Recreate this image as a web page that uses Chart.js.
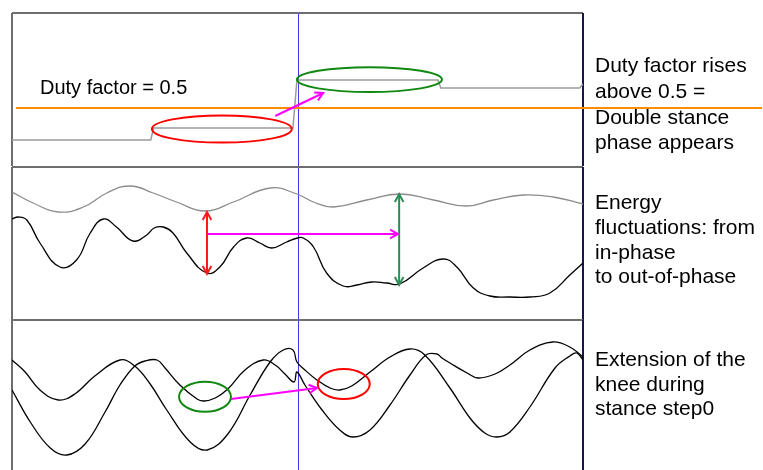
<!DOCTYPE html>
<html>
<head>
<meta charset="utf-8">
<title>Duty factor, energy and knee angle around step 0</title>
<script src="https://cdn.jsdelivr.net/npm/chart.js@4.4.1/dist/chart.umd.min.js"></script>
<style>
  html, body { margin: 0; padding: 0; background: #fff; }
  #wrap { position: relative; width: 763px; height: 470px; overflow: hidden; background: #fff; }
  #wrap canvas { position: absolute; left: 0; }
  .note { position: absolute; font-family: 'Liberation Sans', Arial, sans-serif; color: #000; white-space: nowrap; }
</style>
</head>
<body>
<div id="wrap">
  <canvas id="duty" width="763" height="168" style="top:0"></canvas>
  <canvas id="energy" width="763" height="166" style="top:160px"></canvas>
  <canvas id="knee" width="763" height="157" style="top:313px"></canvas>

  <div class="note" style="left:40px; top:74px; font-size:20px; line-height:26px;">Duty factor = 0.5</div>
  <div class="note" style="left:595px; top:52px; font-size:21px; line-height:25.8px;">Duty factor rises<br>above 0.5 =<br>Double stance<br>phase appears</div>
  <div class="note" style="left:595px; top:190px; font-size:21px; line-height:24.8px;">Energy<br>fluctuations: from<br>in-phase<br>to out-of-phase</div>
  <div class="note" style="left:595px; top:347px; font-size:21px; line-height:24.6px;">Extension of the<br>knee during<br>stance step0</div>
</div>

<script>
// ---- data (x = position in the recorded window, 0..100; step 0 starts at 50) ----
const stepTransition = 50;

// duty factor
const dutyX      = [0, 24.3, 24.8, 49.2, 49.9, 74.6, 75.1, 99.4, 100];
const dutyFactor = [0.42, 0.42, 0.45, 0.45, 0.57, 0.57, 0.55, 0.55, 0.56];
const dutyThreshold = 0.5;

// energy fluctuations (upper grey trace, lower black trace)
const energyUpperX = [0, 3.7, 8.1, 12.5, 16.6, 20.7, 24.7, 28.8, 33.8, 38.8, 45.2, 49.9,
                      52.8, 56.3, 62.1, 67.9, 73.8, 79.6, 84.3, 89.5, 94.8, 100];
const energyUpper  = [12.8, 11.7, 10.8, 11.3, 12.7, 13.4, 12.7, 11.8, 10.9, 11.8, 13.2, 12.6,
                      11.8, 11.3, 12.0, 12.6, 12.0, 11.4, 12.0, 12.5, 12.3, 11.6];
const energyLowerX = [0, 1.1, 2.6, 4.9, 8.4, 11.3, 13.7, 16.0, 18.3, 21.2, 23.6, 24.9, 26.5, 28.2,
                      30.6, 34.1, 36.4, 38.8, 41.1, 43.4, 45.5, 48.1, 50.0, 51.0, 52.8, 55.1, 58.0,
                      60.4, 63.0, 65.6, 67.9, 72.0, 75.5, 77.9, 80.8, 83.7, 87.2, 90.7, 94.2, 97.7, 100];
const energyLower  = [10.1, 10.3, 10.0, 7.7, 5.3, 6.0, 8.7, 10.1, 9.3, 7.9, 8.5, 9.2, 9.3, 8.7,
                      6.7, 4.7, 5.3, 7.3, 8.2, 7.7, 7.2, 7.8, 8.2, 8.2, 7.3, 4.7, 3.4,
                      3.5, 3.8, 3.7, 3.6, 5.2, 6.1, 5.3, 3.2, 2.4, 2.3, 2.3, 2.7, 4.5, 5.7];

// knee angle of the two legs
const kneeAX = [0, 2.3, 4.9, 8.1, 11.0, 14.5, 18.9, 21.5, 24.2, 27.1, 31.2, 34.2, 37.8, 41.7, 45.2,
                47.5, 49.2, 49.9, 51.3, 53.4, 55.7, 57.4, 59.5, 62.7, 66.2, 69.7, 72.3, 76.7, 80.2,
                82.8, 84.9, 87.2, 90.7, 95.1, 97.7, 98.9, 100];
const kneeA  = [110, 98, 80, 70, 76, 94, 110, 104, 86, 60, 28, 20, 36, 75, 108,
                120, 120, 108, 100, 90, 82, 80, 84, 98, 113, 121, 115, 82, 52,
                37, 33, 38, 63, 102, 114, 117, 110];
const kneeBX = [0, 3.2, 6.7, 9.6, 12.8, 16.3, 18.9, 21.5, 23.3, 25.4, 26.8, 29.4, 32.4, 33.6, 35.6,
                37.8, 40.8, 44.0, 46.1, 47.8, 49.4, 49.9, 51.3, 54.3, 57.4, 59.7, 62.7, 66.2, 69.7,
                72.5, 74.4, 75.3, 76.7, 79.7, 81.6, 84.6, 87.2, 90.7, 94.7, 97.7, 100];
const kneeB  = [80, 48, 22, 15, 26, 58, 85, 104, 109, 110, 102, 85, 71, 69, 72,
                81, 100, 110, 105, 96, 88, 98, 85, 60, 40, 33, 40, 65, 95,
                115, 116, 112, 107, 97, 92, 96, 105, 120, 128, 123, 113];

// highlighted regions: [x from, x to, y centre, y half-span]
const dutyHighlights = [[24.5, 49.0, 0.4475, 0.034], [49.9, 75.3, 0.571, 0.031]];
const dutyShift = [46.1, 0.48, 54.5, 0.5375];                 // x0, y0, x1, y1
// vertical spans: [x, top, bottom]
const energySpans = [[34.15, 10.8, 4.6], [67.8, 12.6, 3.5]];
const energyShift = [34.3, 8.6, 67.6, 8.6];
// knee highlights: [x centre, y centre, x half-span, y half-span]
const kneeHighlights = [[33.8, 73.3, 4.55, 15], [58.1, 86, 4.55, 15]];
const kneeShift = [38.35, 71, 53.4, 82];

// ---- helpers ----
const toXY = (xs, ys) => xs.map((x, i) => ({ x, y: ys[i] }));

function arrowHead(ctx, x, y, ang, len) {
  ctx.beginPath();
  ctx.moveTo(x - len * Math.cos(ang - 0.5), y - len * Math.sin(ang - 0.5));
  ctx.lineTo(x, y);
  ctx.lineTo(x - len * Math.cos(ang + 0.5), y - len * Math.sin(ang + 0.5));
  ctx.stroke();
}
function arrow(ctx, x0, y0, x1, y1, both) {
  ctx.beginPath(); ctx.moveTo(x0, y0); ctx.lineTo(x1, y1); ctx.stroke();
  const a = Math.atan2(y1 - y0, x1 - x0);
  arrowHead(ctx, x1, y1, a, 9);
  if (both) arrowHead(ctx, x0, y0, a + Math.PI, 9);
}
function ellipse(ctx, cx, cy, rx, ry) {
  ctx.beginPath(); ctx.ellipse(cx, cy, rx, ry, 0, 0, Math.PI * 2); ctx.stroke();
}

// panel frame: grey top/left edges, dark right edge, blue step-0 marker
const framePlugin = {
  id: 'panelFrame',
  beforeDatasetsDraw(chart) {
    const { ctx, chartArea: a, scales } = chart;
    ctx.save();
    ctx.lineCap = 'butt';
    ctx.strokeStyle = '#3b3bf2';
    ctx.lineWidth = 1;
    const sx = Math.round(scales.x.getPixelForValue(stepTransition)) + 0.5;
    ctx.beginPath(); ctx.moveTo(sx, a.top); ctx.lineTo(sx, a.bottom); ctx.stroke();
    ctx.strokeStyle = '#6e6e6e';
    ctx.lineWidth = 2;
    ctx.beginPath(); ctx.moveTo(a.left, a.top); ctx.lineTo(a.right, a.top); ctx.stroke();
    ctx.beginPath(); ctx.moveTo(a.left, a.top); ctx.lineTo(a.left, a.bottom); ctx.stroke();
    ctx.strokeStyle = '#16164a';
    ctx.beginPath(); ctx.moveTo(a.right, a.top); ctx.lineTo(a.right, a.bottom); ctx.stroke();
    ctx.restore();
  }
};

function baseOptions(yMin, yMax, pad) {
  return {
    responsive: false,
    animation: false,
    events: [],
    layout: { padding: pad },
    plugins: { legend: { display: false }, tooltip: { enabled: false } },
    elements: { point: { radius: 0 } },
    scales: {
      x: { type: 'linear', min: 0, max: 100, display: false },
      y: { type: 'linear', min: yMin, max: yMax, display: false }
    }
  };
}

// ---- panel 1: duty factor ----
new Chart(document.getElementById('duty'), {
  type: 'line',
  data: {
    datasets: [{
      data: toXY(dutyX, dutyFactor),
      borderColor: '#9a9a9a', borderWidth: 1.5, tension: 0
    }]
  },
  options: baseOptions(0.355, 0.7375, { left: 12, top: 13, right: 180, bottom: 2 }),
  plugins: [framePlugin, {
    id: 'dutyNotes',
    afterDatasetsDraw(chart) {
      const { ctx, chartArea: a, scales: { x, y } } = chart;
      ctx.save();
      ctx.lineWidth = 2;
      ['#ff0000', '#118811'].forEach((c, i) => {
        const [x0, x1, yc, dy] = dutyHighlights[i];
        const px0 = x.getPixelForValue(x0), px1 = x.getPixelForValue(x1);
        const pyc = y.getPixelForValue(yc);
        ctx.strokeStyle = c;
        ellipse(ctx, (px0 + px1) / 2, pyc, (px1 - px0) / 2, y.getPixelForValue(yc - dy) - pyc);
      });
      ctx.strokeStyle = '#ff8c00';
      ctx.lineWidth = 2;
      const ty = y.getPixelForValue(dutyThreshold);
      ctx.beginPath(); ctx.moveTo(a.left + 4, ty); ctx.lineTo(chart.width - 1, ty); ctx.stroke();
      ctx.strokeStyle = '#ff00ff';
      ctx.lineWidth = 2;
      arrow(ctx, x.getPixelForValue(dutyShift[0]), y.getPixelForValue(dutyShift[1]),
                 x.getPixelForValue(dutyShift[2]), y.getPixelForValue(dutyShift[3]), false);
      ctx.restore();
    }
  }]
});

// ---- panel 2: energy ----
new Chart(document.getElementById('energy'), {
  type: 'line',
  data: {
    datasets: [
      { data: toXY(energyUpperX, energyUpper), borderColor: '#8c8c8c', borderWidth: 1.3, tension: 0.45 },
      { data: toXY(energyLowerX, energyLower), borderColor: '#000000', borderWidth: 1.3, tension: 0.45 }
    ]
  },
  options: baseOptions(0, 15.3, { left: 12, top: 7, right: 180, bottom: 6 }),
  plugins: [framePlugin, {
    id: 'energyNotes',
    afterDatasetsDraw(chart) {
      const { ctx, scales: { x, y } } = chart;
      ctx.save();
      ctx.lineWidth = 2;
      ['#ff1a1a', '#2e8b57'].forEach((c, i) => {
        const [sx, top, bottom] = energySpans[i];
        const px = x.getPixelForValue(sx);
        ctx.strokeStyle = c;
        arrow(ctx, px, y.getPixelForValue(bottom), px, y.getPixelForValue(top), true);
      });
      ctx.strokeStyle = '#ff00ff';
      arrow(ctx, x.getPixelForValue(energyShift[0]), y.getPixelForValue(energyShift[1]),
                 x.getPixelForValue(energyShift[2]), y.getPixelForValue(energyShift[3]), false);
      ctx.restore();
    }
  }]
});

// ---- panel 3: knee angles ----
new Chart(document.getElementById('knee'), {
  type: 'line',
  data: {
    datasets: [
      { data: toXY(kneeAX, kneeA), borderColor: '#000000', borderWidth: 1.3, tension: 0.4 },
      { data: toXY(kneeBX, kneeB), borderColor: '#000000', borderWidth: 1.3, tension: 0.4 }
    ]
  },
  options: baseOptions(0, 150, { left: 12, top: 7, right: 180, bottom: 0 }),
  plugins: [framePlugin, {
    id: 'kneeNotes',
    afterDatasetsDraw(chart) {
      const { ctx, scales: { x, y } } = chart;
      ctx.save();
      ctx.lineWidth = 2;
      ['#118811', '#ff0000'].forEach((c, i) => {
        const [cx, cy, hx, hy] = kneeHighlights[i];
        const pcx = x.getPixelForValue(cx), pcy = y.getPixelForValue(cy);
        ctx.strokeStyle = c;
        ellipse(ctx, pcx, pcy, x.getPixelForValue(cx + hx) - pcx, y.getPixelForValue(cy - hy) - pcy);
      });
      ctx.strokeStyle = '#ff00ff';
      arrow(ctx, x.getPixelForValue(kneeShift[0]), y.getPixelForValue(kneeShift[1]),
                 x.getPixelForValue(kneeShift[2]), y.getPixelForValue(kneeShift[3]), false);
      ctx.restore();
    }
  }]
});
</script>
</body>
</html>
